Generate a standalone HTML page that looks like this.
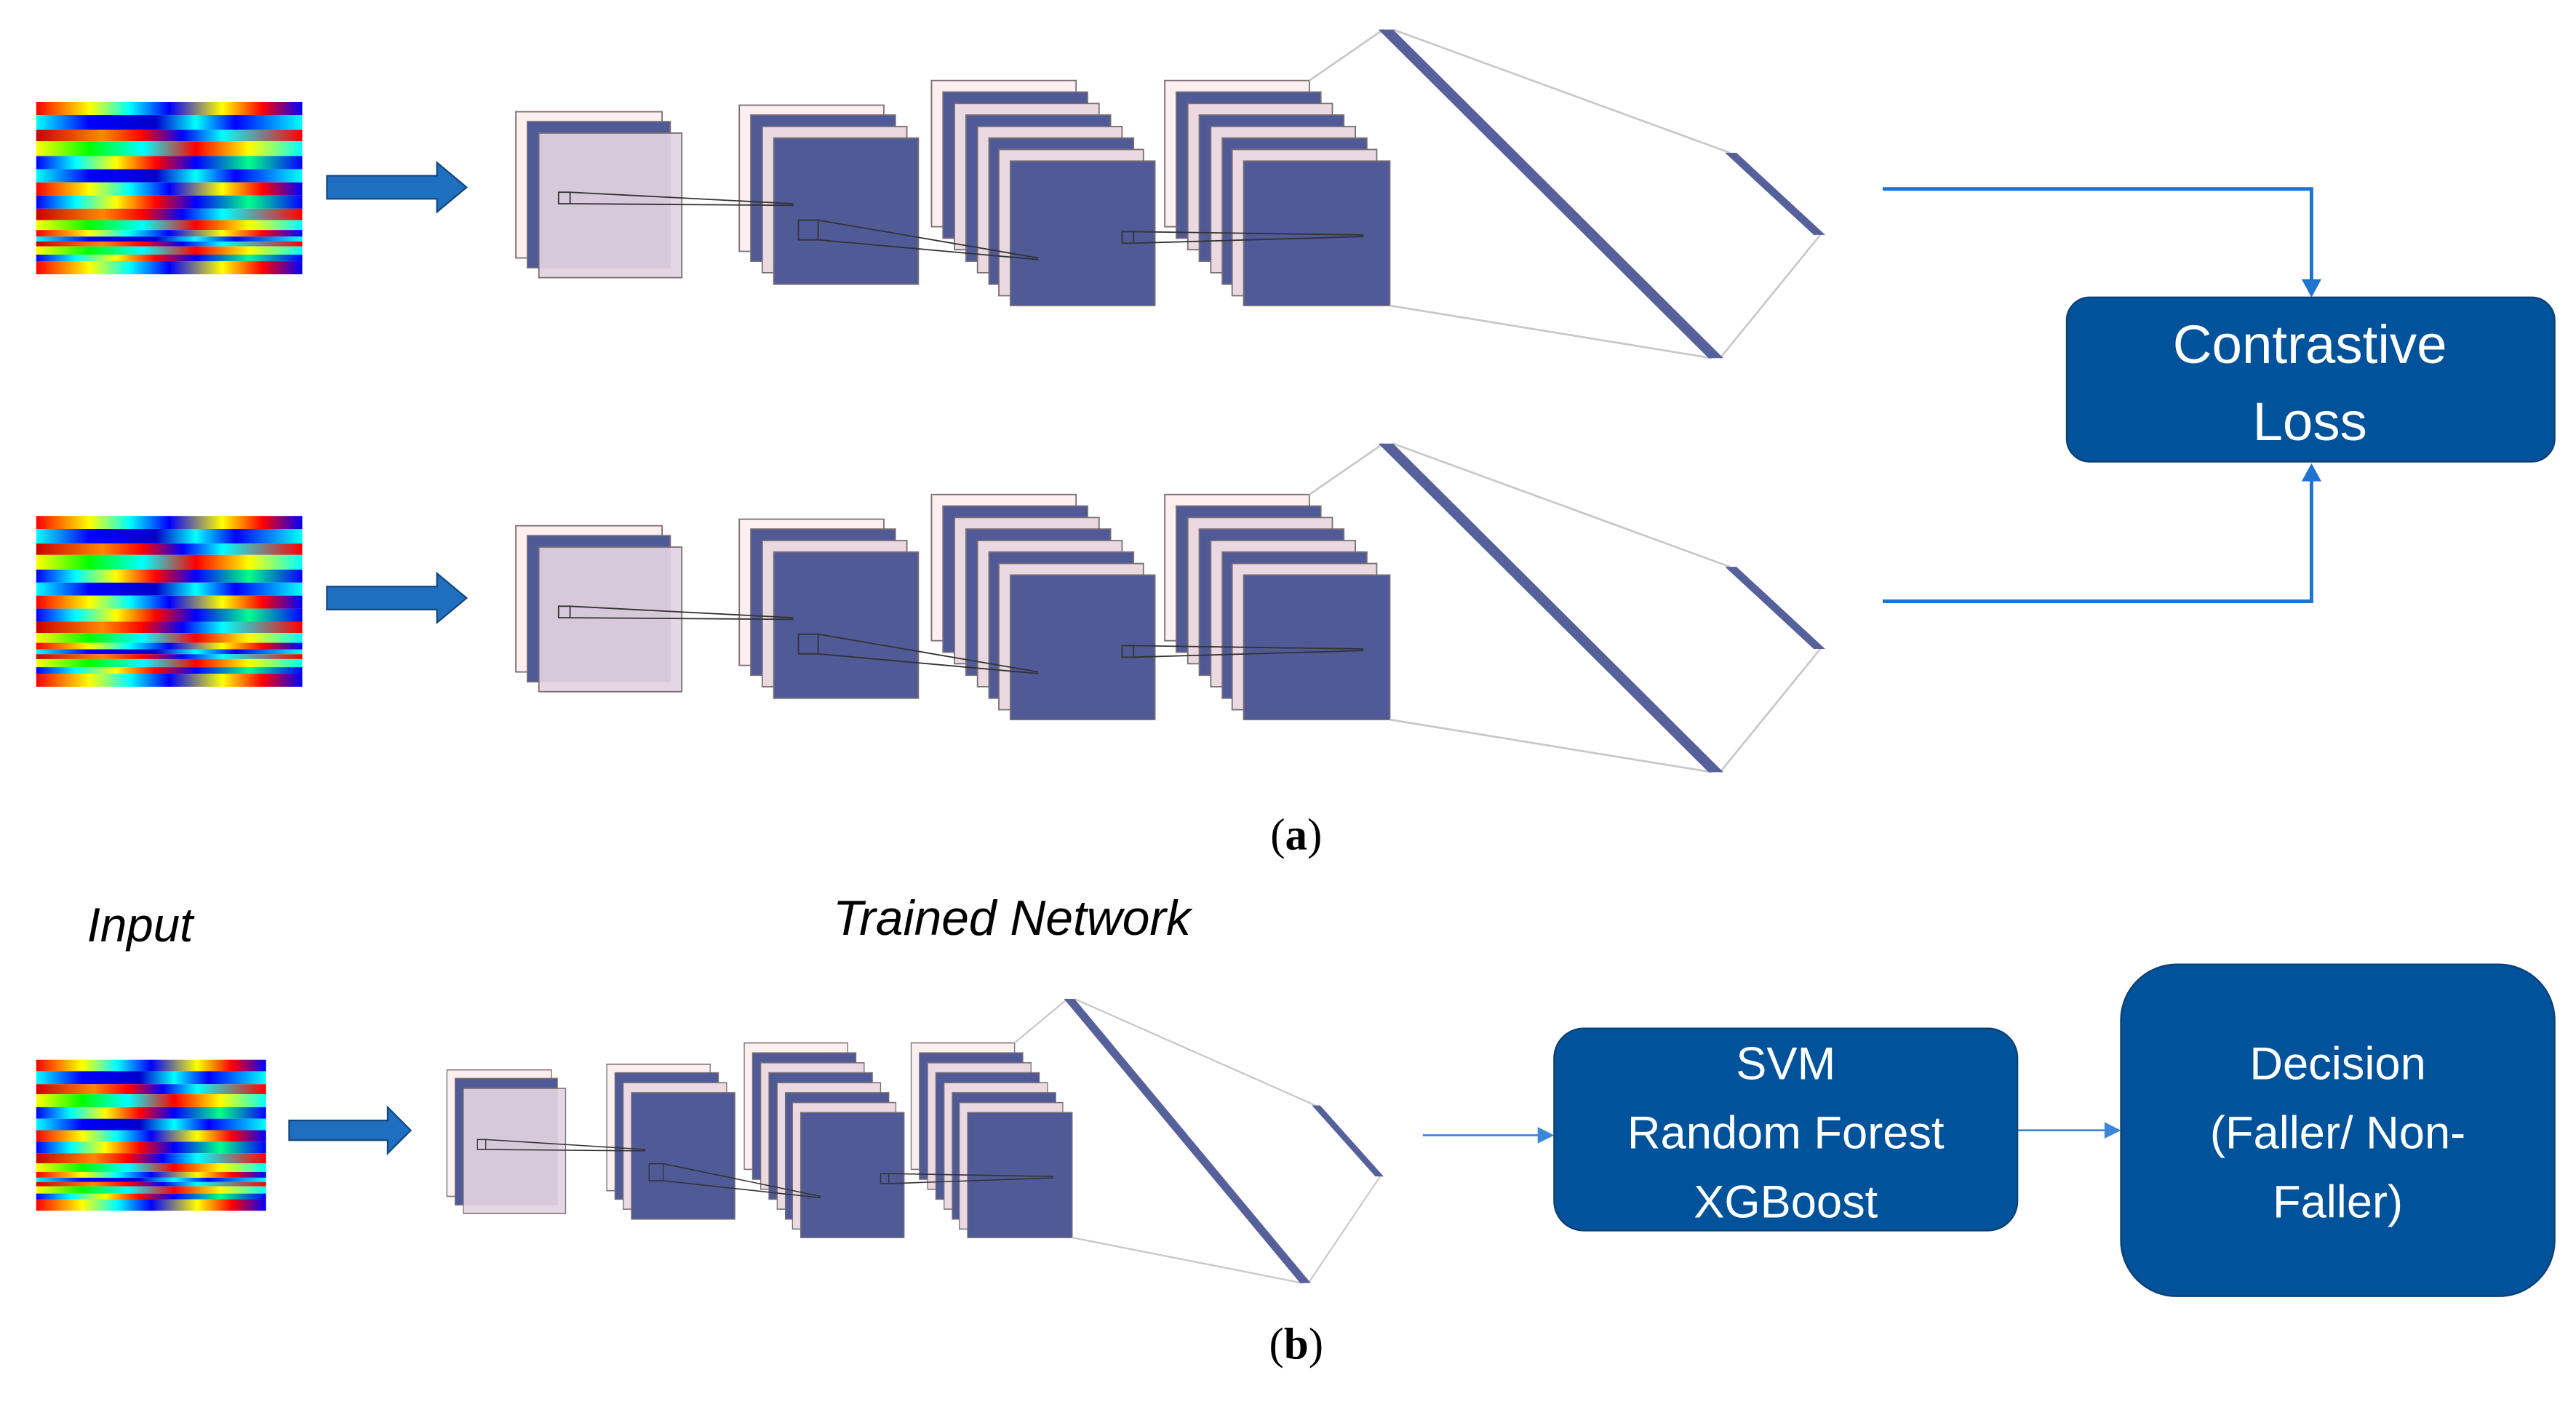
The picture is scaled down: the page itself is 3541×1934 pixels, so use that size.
<!DOCTYPE html>
<html><head><meta charset="utf-8"><style>html,body{margin:0;padding:0;background:#fff}svg{display:block}</style></head>
<body>
<svg width="3541" height="1934" viewBox="0 0 1568 856.4" xmlns="http://www.w3.org/2000/svg">
<defs>
<linearGradient id="g1"><stop offset="0" stop-color="#f00"/><stop offset=".2" stop-color="#ff0"/><stop offset=".35" stop-color="#0ff"/><stop offset=".5" stop-color="#00f"/><stop offset=".7" stop-color="#ff0"/><stop offset=".85" stop-color="#f00"/><stop offset="1" stop-color="#00f"/></linearGradient>
<linearGradient id="g2"><stop offset="0" stop-color="#0ff"/><stop offset=".2" stop-color="#00f"/><stop offset=".45" stop-color="#00c"/><stop offset=".6" stop-color="#0ff"/><stop offset=".75" stop-color="#00f"/><stop offset="1" stop-color="#0ff"/></linearGradient>
<linearGradient id="g3"><stop offset="0" stop-color="#c00"/><stop offset=".25" stop-color="#f80"/><stop offset=".4" stop-color="#f00"/><stop offset=".55" stop-color="#00f"/><stop offset=".7" stop-color="#0ff"/><stop offset="1" stop-color="#f00"/></linearGradient>
<linearGradient id="g4"><stop offset="0" stop-color="#00f"/><stop offset=".15" stop-color="#0ff"/><stop offset=".3" stop-color="#ff0"/><stop offset=".45" stop-color="#f00"/><stop offset=".6" stop-color="#00f"/><stop offset=".8" stop-color="#0f8"/><stop offset="1" stop-color="#00f"/></linearGradient>
<linearGradient id="g5"><stop offset="0" stop-color="#ff0"/><stop offset=".2" stop-color="#0f0"/><stop offset=".4" stop-color="#0ff"/><stop offset=".6" stop-color="#f00"/><stop offset=".8" stop-color="#ff0"/><stop offset="1" stop-color="#0ff"/></linearGradient>
<symbol id="spec" viewBox="0 0 162 105" preserveAspectRatio="none">
<rect x="0" y="0" width="162" height="8" fill="url(#g1)"/>
<rect x="0" y="8" width="162" height="9" fill="url(#g2)"/>
<rect x="0" y="17" width="162" height="7" fill="url(#g3)"/>
<rect x="0" y="24" width="162" height="9" fill="url(#g5)"/>
<rect x="0" y="33" width="162" height="8" fill="url(#g4)"/>
<rect x="0" y="41" width="162" height="8" fill="url(#g2)"/>
<rect x="0" y="49" width="162" height="8" fill="url(#g1)"/>
<rect x="0" y="57" width="162" height="8" fill="url(#g4)"/>
<rect x="0" y="65" width="162" height="7" fill="url(#g3)"/>
<rect x="0" y="72" width="162" height="6" fill="url(#g5)"/>
<rect x="0" y="78" width="162" height="4" fill="url(#g1)"/>
<rect x="0" y="82" width="162" height="3" fill="url(#g2)"/>
<rect x="0" y="85" width="162" height="3" fill="url(#g3)"/>
<rect x="0" y="88" width="162" height="5" fill="url(#g5)"/>
<rect x="0" y="93" width="162" height="4" fill="url(#g4)"/>
<rect x="0" y="97" width="162" height="8" fill="url(#g1)"/>
</symbol>
<g id="net">
 <g stroke="#7a6e74" stroke-width="0.8">
 <rect x="314" y="68" width="89" height="89" fill="#fbeff0"/>
 <rect x="321" y="74" width="87" height="89" fill="#4f5a97"/>
 <rect x="328" y="81" width="87" height="88" fill="#e2d3df" fill-opacity=".92"/>
 <rect x="450" y="64" width="88" height="89" fill="#fbeff0"/>
 <rect x="457" y="70" width="88" height="89" fill="#4f5a97"/>
 <rect x="464" y="77" width="88" height="89" fill="#ead9e0"/>
 <rect x="471" y="84" width="88" height="89" fill="#4f5a97"/>
 <rect x="567" y="49" width="88" height="89" fill="#fbeff0"/>
 <rect x="574" y="56" width="88" height="89" fill="#4f5a97"/>
 <rect x="581" y="63" width="88" height="89" fill="#ead9e0"/>
 <rect x="588" y="70" width="88" height="89" fill="#4f5a97"/>
 <rect x="595" y="77" width="88" height="89" fill="#ead9e0"/>
 <rect x="602" y="84" width="88" height="89" fill="#4f5a97"/>
 <rect x="608" y="91" width="88" height="89" fill="#ead9e0"/>
 <rect x="615" y="98" width="88" height="88" fill="#4f5a97"/>
 <rect x="709" y="49" width="88" height="89" fill="#fbeff0"/>
 <rect x="716" y="56" width="88" height="89" fill="#4f5a97"/>
 <rect x="723" y="63" width="88" height="89" fill="#ead9e0"/>
 <rect x="730" y="70" width="88" height="89" fill="#4f5a97"/>
 <rect x="737" y="77" width="88" height="89" fill="#ead9e0"/>
 <rect x="744" y="84" width="88" height="89" fill="#4f5a97"/>
 <rect x="750" y="91" width="88" height="89" fill="#ead9e0"/>
 <rect x="757" y="98" width="89" height="88" fill="#4f5a97"/>
 </g>
 <g fill="none" stroke="#333" stroke-width="0.8">
 <rect x="340" y="117" width="7" height="7"/>
 <path d="M347 117 L483 124 M347 124 L483 125"/>
 <rect x="486" y="134" width="12" height="12"/>
 <path d="M498 134 L632 157 M498 146 L632 158"/>
 <rect x="683" y="141" width="7" height="7"/>
 <path d="M690 141 L830 143 M690 148 L830 144"/>
 </g>
 <g stroke="#c8c8c8" stroke-width="1.2" fill="none">
 <path d="M797 49 L842 18 M848 18 L1053 93 M846 186 L1042 218 M1047 218 L1108 143"/>
 </g>
 <polygon points="839,18 848,18 1049,218 1040,218" fill="#56609a"/>
 <polygon points="1050,93 1057,93 1111,143 1104,143" fill="#56609a"/>
</g>
<g id="bigarrow"><polygon points="199,107 266,107 266,99 284,114 266,129 266,121 199,121" fill="#1f6fc0" stroke="#15487a" stroke-width="1"/></g>
</defs>

<use href="#spec" x="22" y="62" width="162" height="105"/>
<use href="#spec" x="22" y="314" width="162" height="104"/>
<use href="#bigarrow"/>
<use href="#bigarrow" transform="translate(0,250)"/>
<use href="#net"/>
<use href="#net" transform="translate(0,252)"/>

<g stroke="#1f74d0" stroke-width="2.2" fill="none">
<path d="M1146 115 L1407 115 L1407 172"/>
<path d="M1146 366 L1407 366 L1407 291"/>
</g>
<polygon points="1401,170 1413,170 1407,181" fill="#1f74d0"/>
<polygon points="1401,293 1413,293 1407,282" fill="#1f74d0"/>
<rect x="1258" y="181" width="297" height="100" rx="14" fill="#00539b" stroke="#0c3f74" stroke-width="1"/>
<text x="1406" y="221" font-family="Liberation Sans, sans-serif" font-size="33" fill="#fff" text-anchor="middle">Contrastive</text>
<text x="1406" y="268" font-family="Liberation Sans, sans-serif" font-size="33" fill="#fff" text-anchor="middle">Loss</text>

<text x="789" y="517" font-family="Liberation Serif, serif" font-size="27" fill="#000" text-anchor="middle">(<tspan font-weight="bold">a</tspan>)</text>

<text x="53" y="573" font-family="Liberation Sans, sans-serif" font-style="italic" font-size="29" fill="#000">Input</text>
<text x="507" y="569" font-family="Liberation Sans, sans-serif" font-style="italic" font-size="30" fill="#000">Trained Network</text>
<use href="#spec" x="22" y="645" width="140" height="92"/>
<polygon points="176,682 236,682 236,674 250,688 236,702 236,694 176,694" fill="#1f6fc0" stroke="#15487a" stroke-width="1"/>
<use href="#net" transform="translate(47.4,592.4) scale(0.7154,0.865)"/>

<g stroke="#3b86d6" stroke-width="1.2" fill="none">
<path d="M866 691 L938 691"/>
<path d="M1228 688 L1283 688"/>
</g>
<polygon points="936,686 946,691 936,696" fill="#3b86d6"/>
<polygon points="1281,683 1291,688 1281,693" fill="#3b86d6"/>
<rect x="946" y="626" width="282" height="123" rx="18" fill="#00539b" stroke="#0c3f74" stroke-width="1"/>
<text x="1087" y="657" font-family="Liberation Sans, sans-serif" font-size="28" fill="#fff" text-anchor="middle">SVM</text>
<text x="1087" y="699" font-family="Liberation Sans, sans-serif" font-size="28" fill="#fff" text-anchor="middle">Random Forest</text>
<text x="1087" y="741" font-family="Liberation Sans, sans-serif" font-size="28" fill="#fff" text-anchor="middle">XGBoost</text>
<rect x="1291" y="587" width="264" height="202" rx="34" fill="#00539b" stroke="#0c3f74" stroke-width="1"/>
<text x="1423" y="657" font-family="Liberation Sans, sans-serif" font-size="28" fill="#fff" text-anchor="middle">Decision</text>
<text x="1423" y="699" font-family="Liberation Sans, sans-serif" font-size="28" fill="#fff" text-anchor="middle">(Faller/ Non-</text>
<text x="1423" y="741" font-family="Liberation Sans, sans-serif" font-size="28" fill="#fff" text-anchor="middle">Faller)</text>

<text x="789" y="827" font-family="Liberation Serif, serif" font-size="27" fill="#000" text-anchor="middle">(<tspan font-weight="bold">b</tspan>)</text>
</svg>
</body></html>
